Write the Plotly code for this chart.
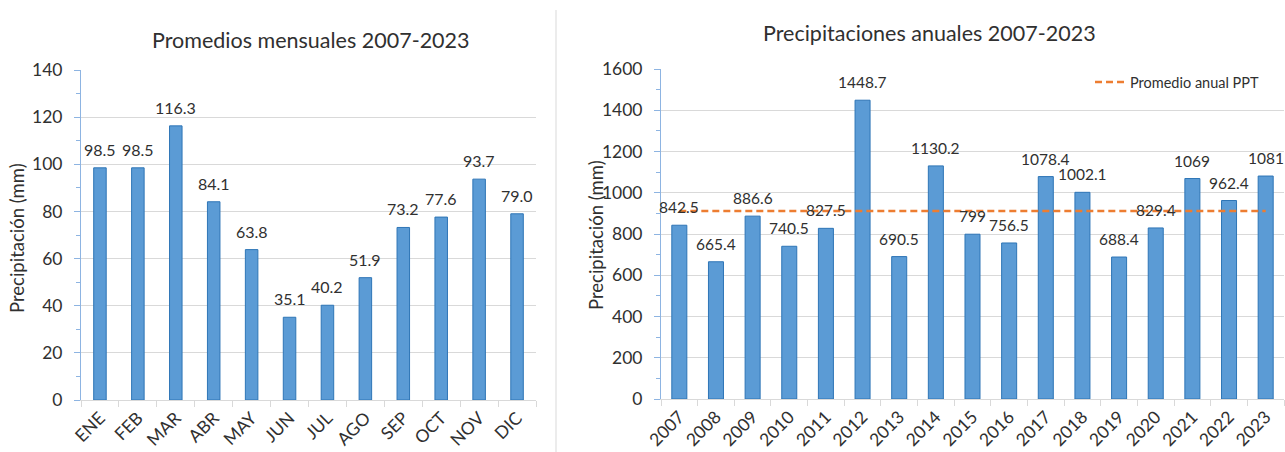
import plotly.graph_objects as go

# Monthly averages 2007-2023 (mm)
months = ["ENE", "FEB", "MAR", "ABR", "MAY", "JUN", "JUL", "AGO", "SEP", "OCT", "NOV", "DIC"]
monthly_mm = [98.5, 98.5, 116.3, 84.1, 63.8, 35.1, 40.2, 51.9, 73.2, 77.6, 93.7, 79.0]

# Annual totals 2007-2023 (mm)
years = [str(y) for y in range(2007, 2024)]
annual_mm = [842.5, 665.4, 886.6, 740.5, 827.5, 1448.7, 690.5, 1130.2, 799,
             756.5, 1078.4, 1002.1, 688.4, 829.4, 1069, 962.4, 1081]
annual_mean_mm = 911.7

W, H = 1285, 452
FONT = "Lato"
TXT = "#303030"
BAR_FILL = "#5B9BD5"
BAR_EDGE = "#2E75B6"
GRID = "#D9D9D9"
YLINE = "#8DB4E2"
ORANGE = "#ED7D31"


def px_x(p):
    return p / W


def px_y(p):
    return (H - p) / H


fig = go.Figure()

fig.add_trace(go.Bar(
    x=months, y=monthly_mm, width=0.33,
    marker=dict(color=BAR_FILL, line=dict(color=BAR_EDGE, width=1)),
    xaxis="x", yaxis="y", showlegend=False, hoverinfo="x+y",
))

fig.add_trace(go.Bar(
    x=years, y=annual_mm, width=0.41,
    marker=dict(color=BAR_FILL, line=dict(color=BAR_EDGE, width=1)),
    xaxis="x2", yaxis="y2", showlegend=False, hoverinfo="x+y",
))

fig.add_trace(go.Scatter(
    x=years, y=[annual_mean_mm] * len(years), mode="lines",
    line=dict(color=ORANGE, width=2.5, dash="7px,4px"),
    name="Promedio anual PPT", xaxis="x2", yaxis="y2", showlegend=True,
))

annotations = []
# value labels above bars (x given as category index)
for i, v in enumerate(monthly_mm):
    annotations.append(dict(x=i, y=v, xref="x", yref="y", text=f"{v:.1f}",
                            showarrow=False, yanchor="bottom", yshift=7,
                            font=dict(family=FONT, size=16, color=TXT)))
for i, v in enumerate(annual_mm):
    annotations.append(dict(x=i, y=v, xref="x2", yref="y2", text=f"{v:g}",
                            showarrow=False, yanchor="bottom", yshift=7,
                            font=dict(family=FONT, size=15.5, color=TXT)))

# chart titles
annotations.append(dict(x=px_x(311), y=px_y(40), xref="paper", yref="paper",
                        text="Promedios mensuales 2007-2023", showarrow=False,
                        xanchor="center", yanchor="middle",
                        font=dict(family=FONT, size=21.5, color=TXT)))
annotations.append(dict(x=px_x(929), y=px_y(33), xref="paper", yref="paper",
                        text="Precipitaciones anuales 2007-2023", showarrow=False,
                        xanchor="center", yanchor="middle",
                        font=dict(family=FONT, size=21.5, color=TXT)))

# y-axis titles
for xc, yc in ((17, 238), (596, 235)):
    annotations.append(dict(x=px_x(xc), y=px_y(yc), xref="paper", yref="paper",
                            text="Precipitación (mm)", showarrow=False, textangle=-90,
                            xanchor="center", yanchor="middle",
                            font=dict(family=FONT, size=18.5, color=TXT)))

tick_font = dict(family=FONT, size=17.5, color=TXT)

xaxis_common = dict(
    type="category", showgrid=False, showline=True, linecolor=GRID, linewidth=1,
    ticks="outside", ticklen=6, tickcolor=GRID, tickson="boundaries",
    tickangle=-45, tickfont=tick_font, fixedrange=True, automargin=False,
)
yaxis_common = dict(
    showgrid=True, gridcolor=GRID, gridwidth=1, zeroline=False,
    showline=True, linecolor=YLINE, linewidth=1,
    ticks="outside", ticklen=6, tickcolor=YLINE, tickfont=tick_font,
    ticklabelstandoff=8, fixedrange=True, automargin=False,
)

fig.update_layout(
    width=W, height=H,
    margin=dict(l=0, r=0, t=0, b=0, autoexpand=False),
    paper_bgcolor="white", plot_bgcolor="white",
    xaxis=dict(domain=[px_x(81), px_x(536)], anchor="y",
               range=[-0.5, len(months) - 0.5], **xaxis_common),
    yaxis=dict(domain=[px_y(400), px_y(70)], anchor="x", range=[0, 140], dtick=20,
               minor=dict(dtick=10, ticks="outside", ticklen=4, tickcolor=YLINE),
               **yaxis_common),
    xaxis2=dict(domain=[px_x(661), px_x(1284)], anchor="y2",
                range=[-0.5, len(years) - 0.5], **xaxis_common),
    yaxis2=dict(domain=[px_y(399), px_y(69)], anchor="x2", range=[0, 1600], dtick=200,
                minor=dict(dtick=100, ticks="outside", ticklen=4, tickcolor=YLINE),
                **yaxis_common),
    legend=dict(x=px_x(1090), y=px_y(66), xanchor="left", yanchor="top",
                bgcolor="white", font=dict(family=FONT, size=14.5, color=TXT),
                itemwidth=30, tracegroupgap=0),
    annotations=annotations,
    showlegend=True,
    shapes=[
        # divider between the two charts
        dict(type="line", xref="paper", yref="paper",
             x0=px_x(556), x1=px_x(556), y0=0, y1=px_y(10),
             line=dict(color=GRID, width=1)),
        # legend area background over the top gridline
        dict(type="rect", xref="paper", yref="paper", layer="above",
             x0=px_x(1051), x1=1, y0=px_y(95), y1=px_y(64),
             fillcolor="white", line=dict(width=0)),
    ],
)

fig.write_html("out.html")
